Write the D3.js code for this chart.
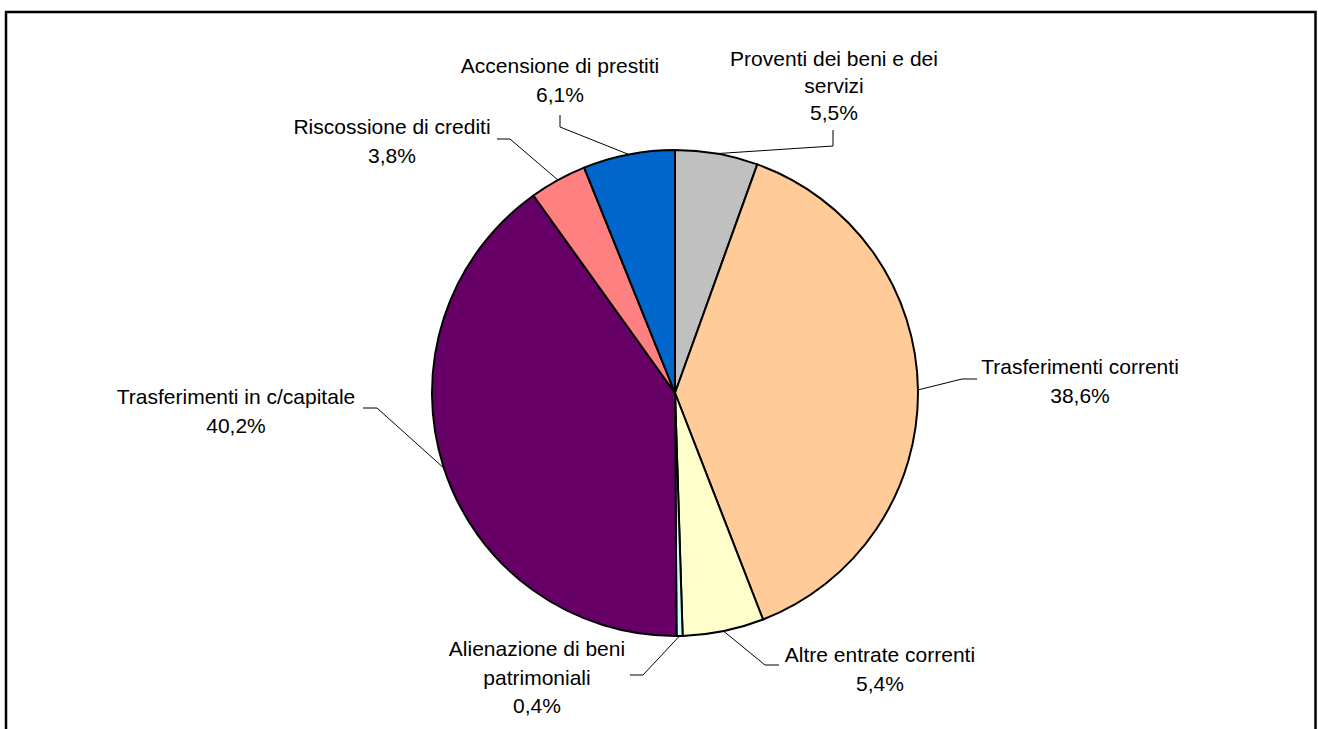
<!DOCTYPE html>
<html lang="it">
<head>
    <meta charset="UTF-8">
    <title>Entrate - composizione percentuale</title>
    <script src="https://d3js.org/d3.v7.min.js"></script>
    <style>
        body {
            margin: 0;
            padding: 0;
            background: #fff;
        }

        .label {
            font-family: "Liberation Sans", Arial, sans-serif;
            font-size: 21px;
            fill: #000;
            text-anchor: middle;
        }
    </style>
</head>
<body>
    <svg id="chart"></svg>

    <script>
        // Slices in clockwise order, starting at 12 o'clock
        const categories = [
            "Proventi dei beni e dei servizi",
            "Trasferimenti correnti",
            "Altre entrate correnti",
            "Alienazione di beni patrimoniali",
            "Trasferimenti in c/capitale",
            "Riscossione di crediti",
            "Accensione di prestiti"
        ];
        const values = [5.5, 38.6, 5.4, 0.4, 40.2, 3.8, 6.1];

        // Label text lines (the category names as they wrap in the picture)
        const labelLines = [
            ["Proventi dei beni e dei", "servizi"],
            ["Trasferimenti correnti"],
            ["Altre entrate correnti"],
            ["Alienazione di beni", "patrimoniali"],
            ["Trasferimenti in c/capitale"],
            ["Riscossione di crediti"],
            ["Accensione di prestiti"]
        ];

        const palette = ["#C0C0C0", "#FFCC99", "#FFFFCC", "#CCFFFF", "#660066", "#FF8080", "#0066CC"];

        // Where each label sits: text centre x, first baseline y, line step, leader elbow and end
        const layout = [
            { x: 834, y: 66, step: 27, elbow: [833, 146], end: [833, 130] },
            { x: 1080, y: 374, step: 28.5, elbow: [962, 379], end: [977, 379] },
            { x: 880, y: 662, step: 28.5, elbow: [765, 665], end: [779, 665] },
            { x: 537, y: 656, step: 28.5, elbow: [643, 675], end: [630, 675] },
            { x: 236, y: 404, step: 28.5, elbow: [377, 408], end: [363, 408] },
            { x: 392, y: 134, step: 28.5, elbow: [510, 139], end: [497, 139] },
            { x: 560, y: 73, step: 28.5, elbow: [560, 127], end: [560, 115] }
        ];

        const width = 1318, height = 729;
        const cx = 675, cy = 393, radius = 243;

        const itFormat = d3.formatLocale({ decimal: ",", thousands: ".", grouping: [3], currency: ["€", ""] }).format(".1%");
        const color = d3.scaleOrdinal().domain(categories).range(palette);

        const svg = d3.select("#chart")
            .attr("width", width)
            .attr("height", height);

        // Outer frame (bottom edge falls outside the picture)
        svg.append("rect")
            .attr("x", 6)
            .attr("y", 12)
            .attr("width", 1309.5)
            .attr("height", 740)
            .attr("fill", "none")
            .attr("stroke", "#000")
            .attr("stroke-width", 2.5);

        const pie = d3.pie().sort(null).value(d => d.value);
        const arcs = pie(categories.map((c, i) => ({ name: c, value: values[i], i: i })));

        const arc = d3.arc().innerRadius(0).outerRadius(radius);
        const edge = d3.arc().innerRadius(radius).outerRadius(radius);

        const g = svg.append("g").attr("transform", `translate(${cx},${cy})`);

        g.selectAll("path.slice")
            .data(arcs)
            .enter().append("path")
            .attr("class", "slice")
            .attr("d", arc)
            .attr("fill", d => color(d.data.name))
            .attr("stroke", "#000")
            .attr("stroke-width", 2)
            .attr("stroke-linejoin", "round");

        // Leader lines: from the slice edge at its middle angle to the label
        svg.selectAll("polyline.leader")
            .data(arcs)
            .enter().append("polyline")
            .attr("class", "leader")
            .attr("points", d => {
                const p = edge.centroid(d);
                const L = layout[d.data.i];
                return [[cx + p[0], cy + p[1]], L.elbow, L.end].map(q => q.join(",")).join(" ");
            })
            .attr("fill", "none")
            .attr("stroke", "#000")
            .attr("stroke-width", 1);

        // Labels: category name lines, then the percentage
        const labels = svg.selectAll("text.label")
            .data(arcs)
            .enter().append("text")
            .attr("class", "label")
            .attr("x", d => layout[d.data.i].x)
            .attr("y", d => layout[d.data.i].y);

        labels.each(function(d) {
            const t = d3.select(this);
            const L = layout[d.data.i];
            const lines = labelLines[d.data.i].concat([itFormat(d.data.value / 100)]);
            lines.forEach((s, k) => {
                t.append("tspan")
                    .attr("x", L.x)
                    .attr("y", L.y + k * L.step)
                    .text(s);
            });
        });
    </script>
</body>
</html>
